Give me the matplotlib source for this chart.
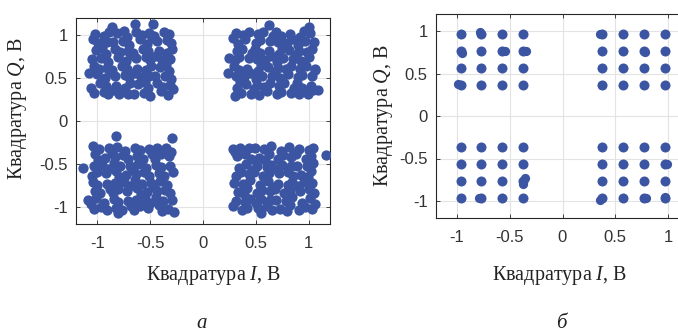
# %%
# Constellation diagrams: (a) received noisy signal, (б) after processing
import numpy as np
import matplotlib
matplotlib.use('Agg')
import matplotlib.pyplot as plt

# ------------------------------------------------
# Data
# ------------------------------------------------
ticks = [-1, -0.5, 0, 0.5, 1]
tick_labels = ['-1', '-0.5', '0', '0.5', '1']

# (a) noisy samples, one list per quadrant (I, Q)
pts_ul = [(-0.94, 0.99), (-1.02, 1.01), (-0.91, 0.92), (-0.99, 0.91), (-0.89, 1.04), (-1.04, 0.96),
          (-0.81, 1.03), (-0.72, 0.98), (-0.76, 0.93), (-0.85, 0.92), (-0.70, 0.89), (-0.75, 1.05),
          (-0.51, 1.02), (-0.60, 0.95), (-0.63, 1.04), (-0.53, 0.90), (-0.48, 0.97), (-0.58, 1.00),
          (-0.37, 1.04), (-0.43, 0.93), (-0.32, 1.01), (-0.34, 0.94), (-0.46, 0.99), (-0.30, 0.91),
          (-1.01, 0.83), (-0.92, 0.78), (-0.96, 0.73), (-1.05, 0.72), (-0.90, 0.69), (-0.95, 0.85),
          (-0.71, 0.82), (-0.80, 0.75), (-0.83, 0.84), (-0.73, 0.70), (-0.68, 0.77), (-0.78, 0.80),
          (-0.57, 0.84), (-0.63, 0.73), (-0.52, 0.81), (-0.54, 0.74), (-0.66, 0.79), (-0.50, 0.71),
          (-0.34, 0.79), (-0.42, 0.81), (-0.31, 0.72), (-0.39, 0.71), (-0.29, 0.84), (-0.44, 0.76),
          (-0.91, 0.62), (-1.00, 0.55), (-1.03, 0.64), (-0.93, 0.50), (-0.88, 0.57), (-0.98, 0.60),
          (-0.77, 0.64), (-0.83, 0.53), (-0.72, 0.61), (-0.74, 0.54), (-0.86, 0.59), (-0.70, 0.51),
          (-0.54, 0.59), (-0.62, 0.61), (-0.51, 0.52), (-0.59, 0.51), (-0.49, 0.64), (-0.64, 0.56),
          (-0.41, 0.63), (-0.32, 0.58), (-0.36, 0.53), (-0.45, 0.52), (-0.30, 0.49), (-0.35, 0.65),
          (-0.97, 0.44), (-1.03, 0.33), (-0.92, 0.41), (-0.94, 0.34), (-1.06, 0.39), (-0.90, 0.31),
          (-0.74, 0.39), (-0.82, 0.41), (-0.71, 0.32), (-0.79, 0.31), (-0.69, 0.44), (-0.84, 0.36),
          (-0.61, 0.43), (-0.52, 0.38), (-0.56, 0.33), (-0.65, 0.32), (-0.50, 0.29), (-0.55, 0.45),
          (-0.31, 0.42), (-0.40, 0.35), (-0.43, 0.44), (-0.33, 0.30), (-0.28, 0.37), (-0.38, 0.40),
          (-0.47, 1.135), (-0.64, 1.13), (-1.08, 0.555), (-0.86, 1.10)]

pts_ur = [(0.31, 1.02), (0.40, 0.95), (0.43, 1.04), (0.33, 0.90), (0.28, 0.97), (0.38, 1.00),
          (0.57, 1.04), (0.63, 0.93), (0.52, 1.01), (0.54, 0.94), (0.66, 0.99), (0.50, 0.91),
          (0.74, 0.99), (0.82, 1.01), (0.71, 0.92), (0.79, 0.91), (0.69, 1.04), (0.84, 0.96),
          (1.01, 1.03), (0.92, 0.98), (0.96, 0.93), (1.05, 0.92), (0.90, 0.89), (0.95, 1.05),
          (0.37, 0.84), (0.43, 0.73), (0.32, 0.81), (0.34, 0.74), (0.46, 0.79), (0.30, 0.71),
          (0.54, 0.79), (0.62, 0.81), (0.51, 0.72), (0.59, 0.71), (0.49, 0.84), (0.64, 0.76),
          (0.81, 0.83), (0.72, 0.78), (0.76, 0.73), (0.85, 0.72), (0.70, 0.69), (0.75, 0.85),
          (0.91, 0.82), (1.00, 0.75), (1.03, 0.84), (0.93, 0.70), (0.88, 0.77), (0.98, 0.80),
          (0.34, 0.59), (0.42, 0.61), (0.31, 0.52), (0.39, 0.51), (0.29, 0.64), (0.44, 0.56),
          (0.61, 0.63), (0.52, 0.58), (0.56, 0.53), (0.65, 0.52), (0.50, 0.49), (0.55, 0.65),
          (0.71, 0.62), (0.80, 0.55), (0.83, 0.64), (0.73, 0.50), (0.68, 0.57), (0.78, 0.60),
          (0.97, 0.64), (1.03, 0.53), (0.92, 0.61), (0.94, 0.54), (1.06, 0.59), (0.90, 0.51),
          (0.41, 0.43), (0.32, 0.38), (0.36, 0.33), (0.45, 0.32), (0.30, 0.29), (0.35, 0.45),
          (0.51, 0.42), (0.60, 0.35), (0.63, 0.44), (0.53, 0.30), (0.48, 0.37), (0.58, 0.40),
          (0.77, 0.44), (0.83, 0.33), (0.72, 0.41), (0.74, 0.34), (0.86, 0.39), (0.70, 0.31),
          (0.94, 0.39), (1.02, 0.41), (0.91, 0.32), (0.99, 0.31), (0.89, 0.44), (1.04, 0.36),
          (0.625, 1.12), (0.25, 0.73), (0.24, 0.555), (1.09, 0.36), (1.06, 0.61), (1.00, 1.10)]

pts_ll = [(-0.93, -0.43), (-1.02, -0.38), (-0.98, -0.33), (-0.89, -0.32), (-1.04, -0.29), (-0.99, -0.45),
          (-0.83, -0.42), (-0.74, -0.35), (-0.71, -0.44), (-0.81, -0.30), (-0.86, -0.37), (-0.76, -0.40),
          (-0.57, -0.44), (-0.51, -0.33), (-0.62, -0.41), (-0.60, -0.34), (-0.48, -0.39), (-0.64, -0.31),
          (-0.40, -0.39), (-0.32, -0.41), (-0.43, -0.32), (-0.35, -0.31), (-0.45, -0.44), (-0.30, -0.36),
          (-1.00, -0.59), (-0.92, -0.61), (-1.03, -0.52), (-0.95, -0.51), (-1.05, -0.64), (-0.90, -0.56),
          (-0.73, -0.63), (-0.82, -0.58), (-0.78, -0.53), (-0.69, -0.52), (-0.84, -0.49), (-0.79, -0.65),
          (-0.63, -0.62), (-0.54, -0.55), (-0.51, -0.64), (-0.61, -0.50), (-0.66, -0.57), (-0.56, -0.60),
          (-0.37, -0.64), (-0.31, -0.53), (-0.42, -0.61), (-0.40, -0.54), (-0.28, -0.59), (-0.44, -0.51),
          (-0.97, -0.84), (-0.91, -0.73), (-1.02, -0.81), (-1.00, -0.74), (-0.88, -0.79), (-1.04, -0.71),
          (-0.80, -0.79), (-0.72, -0.81), (-0.83, -0.72), (-0.75, -0.71), (-0.85, -0.84), (-0.70, -0.76),
          (-0.53, -0.83), (-0.62, -0.78), (-0.58, -0.73), (-0.49, -0.72), (-0.64, -0.69), (-0.59, -0.85),
          (-0.43, -0.82), (-0.34, -0.75), (-0.31, -0.84), (-0.41, -0.70), (-0.46, -0.77), (-0.36, -0.80),
          (-1.03, -1.02), (-0.94, -0.95), (-0.91, -1.04), (-1.01, -0.90), (-1.06, -0.97), (-0.96, -1.00),
          (-0.77, -1.04), (-0.71, -0.93), (-0.82, -1.01), (-0.80, -0.94), (-0.68, -0.99), (-0.84, -0.91),
          (-0.60, -0.99), (-0.52, -1.01), (-0.63, -0.92), (-0.55, -0.91), (-0.65, -1.04), (-0.50, -0.96),
          (-0.33, -1.03), (-0.42, -0.98), (-0.38, -0.93), (-0.29, -0.92), (-0.44, -0.89), (-0.39, -1.05),
          (-0.29, -0.20), (-0.82, -0.17), (-1.13, -0.55), (-0.80, -1.07), (-0.275, -1.06), (-1.09, -0.92)]

pts_lr = [(0.40, -0.39), (0.32, -0.41), (0.43, -0.32), (0.35, -0.31), (0.45, -0.44), (0.30, -0.36),
          (0.53, -0.43), (0.62, -0.38), (0.58, -0.33), (0.49, -0.32), (0.64, -0.29), (0.59, -0.45),
          (0.83, -0.42), (0.74, -0.35), (0.71, -0.44), (0.81, -0.30), (0.86, -0.37), (0.76, -0.40),
          (0.97, -0.44), (0.91, -0.33), (1.02, -0.41), (1.00, -0.34), (0.88, -0.39), (1.04, -0.31),
          (0.43, -0.62), (0.34, -0.55), (0.31, -0.64), (0.41, -0.50), (0.46, -0.57), (0.36, -0.60),
          (0.57, -0.64), (0.51, -0.53), (0.62, -0.61), (0.60, -0.54), (0.48, -0.59), (0.64, -0.51),
          (0.80, -0.59), (0.72, -0.61), (0.83, -0.52), (0.75, -0.51), (0.85, -0.64), (0.70, -0.56),
          (0.93, -0.63), (1.02, -0.58), (0.98, -0.53), (0.89, -0.52), (1.04, -0.49), (0.99, -0.65),
          (0.33, -0.83), (0.42, -0.78), (0.38, -0.73), (0.29, -0.72), (0.44, -0.69), (0.39, -0.85),
          (0.63, -0.82), (0.54, -0.75), (0.51, -0.84), (0.61, -0.70), (0.66, -0.77), (0.56, -0.80),
          (0.77, -0.84), (0.71, -0.73), (0.82, -0.81), (0.80, -0.74), (0.68, -0.79), (0.84, -0.71),
          (1.00, -0.79), (0.92, -0.81), (1.03, -0.72), (0.95, -0.71), (1.05, -0.84), (0.90, -0.76),
          (0.37, -1.04), (0.31, -0.93), (0.42, -1.01), (0.40, -0.94), (0.28, -0.99), (0.44, -0.91),
          (0.60, -0.99), (0.52, -1.01), (0.63, -0.92), (0.55, -0.91), (0.65, -1.04), (0.50, -0.96),
          (0.73, -1.03), (0.82, -0.98), (0.78, -0.93), (0.69, -0.92), (0.84, -0.89), (0.79, -1.05),
          (1.03, -1.02), (0.94, -0.95), (0.91, -1.04), (1.01, -0.90), (1.06, -0.97), (0.96, -1.00),
          (1.16, -0.40), (0.55, -1.07), (0.28, -0.33)]

# (б) clean constellation: levels on I and Q, plus a few smeared samples
levels_i = [-0.96, -0.77, -0.57, -0.37, 0.37, 0.57, 0.77, 0.97]
levels_q = [-0.97, -0.77, -0.57, -0.37, 0.37, 0.57, 0.77, 0.97]
pts_smear = [(-0.35, 0.76), (-0.36, -0.73), (-0.37, -0.80), (0.99, -0.56), (0.79, -0.96),
             (-0.95, 0.74), (-0.99, 0.38), (0.36, 0.97), (0.78, 0.75), (-0.79, -0.96),
             (0.37, 0.37), (-0.55, 0.77), (-0.78, 0.99), (0.97, -0.95), (0.36, -0.99)]

# ------------------------------------------------
# Plot
# ------------------------------------------------
plt.rcParams['font.family'] = 'Liberation Sans'
plt.rcParams['axes.unicode_minus'] = False
plt.rcParams['mathtext.fontset'] = 'custom'
plt.rcParams['mathtext.rm'] = 'Liberation Serif'
plt.rcParams['mathtext.it'] = 'Liberation Serif:italic'

dot_color = '#3b55a3'
serif = 'Liberation Serif'

fig = plt.figure(figsize=(6.78, 3.32), dpi=100)
ax1 = fig.add_axes([76 / 678, 1 - 224 / 332, 254 / 678, 206 / 332])
ax2 = fig.add_axes([436 / 678, 1 - 218 / 332, 253 / 678, 204 / 332])

noisy = np.array(pts_ul + pts_ur + pts_ll + pts_lr)
ax1.scatter(noisy[:, 0], noisy[:, 1], s=55, color=dot_color, linewidths=0, zorder=3)

gi, gq = np.meshgrid(levels_i, levels_q)
ax2.scatter(gi.ravel(), gq.ravel(), s=52, color=dot_color, linewidths=0, zorder=3)
smear = np.array(pts_smear)
ax2.scatter(smear[:, 0], smear[:, 1], s=44, color=dot_color, linewidths=0, zorder=3)

for ax in (ax1, ax2):
    ax.set_xlim(-1.2, 1.2)
    ax.set_ylim(-1.2, 1.2)
    ax.set_xticks(ticks)
    ax.set_xticklabels(tick_labels)
    ax.set_yticks(ticks)
    ax.set_yticklabels(tick_labels)
    ax.grid(True, color='#e3e3e3', linewidth=0.8, zorder=0)
    ax.set_axisbelow(True)
    ax.tick_params(direction='in', length=3, width=0.6, top=True, right=True,
                   labelsize=12, colors='#262626', labelcolor='#333333')
    ax.tick_params(axis='x', pad=9)
    ax.tick_params(axis='y', pad=6)
    for sp in ax.spines.values():
        sp.set_color('#262626')
        sp.set_linewidth(0.8)
    ax.set_xlabel('Квадратура $I$, В', fontsize=14.5, fontfamily=serif, color='#222222')
    ax.set_ylabel('Квадратура $Q$, В', fontsize=14.5, fontfamily=serif, color='#222222')

ax1.xaxis.set_label_coords(0.54, -0.195)
ax1.yaxis.set_label_coords(-0.185, 0.56)
ax2.xaxis.set_label_coords(0.49, -0.225)
ax2.yaxis.set_label_coords(-0.162, 0.5)

fig.text(202 / 678, 1 - 323 / 332, 'а', fontsize=15, fontfamily=serif, style='italic',
         ha='center', va='center', color='#222222')
fig.text(561 / 678, 1 - 323 / 332, 'б', fontsize=15, fontfamily=serif, style='italic',
         ha='center', va='center', color='#222222')

fig.savefig('out.png', dpi=100)
